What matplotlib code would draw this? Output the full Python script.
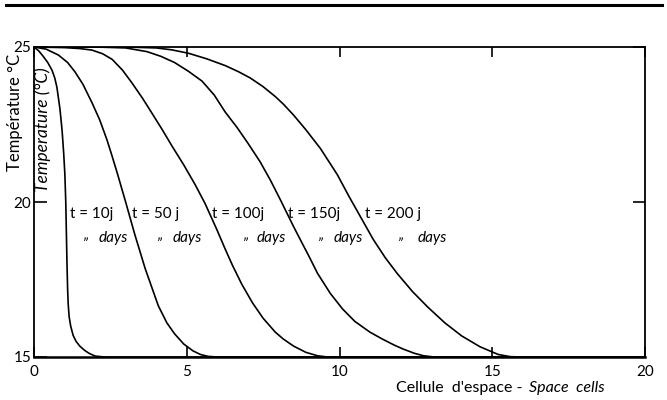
import matplotlib
matplotlib.use("Agg")
import matplotlib.pyplot as plt
from matplotlib.lines import Line2D
import matplotlib.transforms as mtransforms

plt.rcParams['font.family'] = ['Lato', 'DejaVu Sans']

# ---- data ----
x10 = [0, 0.15, 0.3, 0.45, 0.59, 0.68, 0.75, 0.85, 0.92, 0.97, 1.01, 1.04, 1.06, 1.08, 1.1,
       1.12, 1.15, 1.2, 1.28, 1.38, 1.5, 1.65, 1.8, 2.0, 2.3, 20]
T10 = [25, 24.88, 24.7, 24.5, 24.25, 24.0, 23.7, 23.0, 22.3, 21.6, 20.9, 20.0, 19.0, 18.0, 17.2,
       16.7, 16.3, 16.0, 15.7, 15.5, 15.35, 15.22, 15.12, 15.03, 15.0, 15]

x50 = [0, 0.4, 0.8, 1.1, 1.34, 1.6, 1.9, 2.15, 2.39, 2.55, 2.72, 3.0, 3.3, 3.64, 4.07, 4.35,
       4.6, 4.9, 5.2, 5.45, 5.7, 6.0, 20]
T50 = [25, 24.93, 24.74, 24.5, 24.2, 23.8, 23.2, 22.65, 22.0, 21.5, 20.95, 20.0, 18.95, 17.85, 16.65, 16.1,
       15.75, 15.42, 15.2, 15.08, 15.02, 15.0, 15]

x100 = [0, 1.0, 1.5, 1.9, 2.25, 2.56, 2.9, 3.2, 3.55, 3.87, 4.2, 4.52, 4.9, 5.28, 5.6, 5.99,
        6.25, 6.5, 6.8, 7.15, 7.5, 7.9, 8.16, 8.5, 8.9, 9.28, 9.6, 20]
T100 = [25, 24.98, 24.95, 24.9, 24.78, 24.6, 24.25, 23.85, 23.35, 22.85, 22.33, 21.8, 21.2, 20.55, 19.95, 19.1,
        18.5, 17.95, 17.35, 16.75, 16.25, 15.8, 15.58, 15.35, 15.15, 15.04, 15.0, 15]

x150 = [0, 2.0, 3.0, 3.7, 4.15, 4.6, 5.05, 5.5, 5.9, 6.26, 6.65, 7.0, 7.4, 7.74, 8.05, 8.3,
        8.5, 8.72, 9.0, 9.28, 9.7, 10.1, 10.5, 11.0, 11.4, 11.8, 12.1, 12.45, 12.75, 13.1, 20]
T150 = [25, 25, 24.97, 24.85, 24.7, 24.5, 24.22, 23.9, 23.45, 22.9, 22.4, 21.9, 21.3, 20.7, 20.1, 19.6,
        19.2, 18.78, 18.25, 17.7, 17.05, 16.55, 16.15, 15.8, 15.58, 15.38, 15.25, 15.12, 15.04, 15.0, 15]

x200 = [0, 3.0, 4.0, 4.5, 5.05, 5.65, 6.26, 6.7, 7.08, 7.5, 7.9, 8.17, 8.5, 8.9, 9.38, 9.93,
        10.3, 10.7, 11.1, 11.5, 11.9, 12.4, 12.9, 13.45, 14.0, 14.6, 15.2, 15.6, 16.0, 20]
T200 = [25, 25, 24.97, 24.91, 24.8, 24.62, 24.4, 24.2, 24.0, 23.72, 23.4, 23.15, 22.8, 22.33, 21.72, 20.88,
        20.2, 19.5, 18.8, 18.2, 17.68, 17.1, 16.6, 16.1, 15.68, 15.33, 15.08, 15.01, 15.0, 15]

series_x = [x10, x50, x100, x150, x200]
series_T = [T10, T50, T100, T150, T200]
time_labels = ["t = 10j", "t = 50 j", "t = 100j", "t = 150j", "t = 200 j"]
days_word = "days"
ditto_mark = "\u201e"

x_ticks = [0, 5, 10, 15, 20]
y_ticks = [15, 20, 25]

# ---- figure ----
fig = plt.figure(figsize=(6.67, 4.0), dpi=100)
ax = fig.add_axes([34/667, 1-357/400, (645-34)/667, (357-47)/400])

for xs, ts in zip(series_x, series_T):
    ax.plot(xs, ts, color='black', lw=1.2, solid_joinstyle='round', solid_capstyle='round')

ax.set_xlim(0, 20)
ax.set_ylim(15, 25)
ax.set_xticks(x_ticks)
ax.set_yticks(y_ticks)
ax.set_xticklabels([str(v) for v in x_ticks], fontsize=11)
ax.set_yticklabels([str(v) for v in y_ticks], fontsize=11)
ax.tick_params(axis='x', direction='in', top=True, bottom=True, length=7, width=1.2, pad=6)
ax.tick_params(axis='y', direction='in', left=True, right=True, length=9, width=1.2, pad=2)
for s in ax.spines.values():
    s.set_linewidth(1.3)
ax.spines['bottom'].set_linewidth(1.8)

# curve labels
lab_x = [1.18, 3.21, 5.84, 8.33, 10.85]
ditto_x = [1.6, 4.03, 6.85, 9.31, 11.93]
days_x = [2.1, 4.55, 7.3, 9.8, 12.55]
up = mtransforms.offset_copy(ax.transData, fig=fig, x=0, y=3, units='dots')
for lx, mx, dx, lbl in zip(lab_x, ditto_x, days_x, time_labels):
    ax.text(lx, 19.6, lbl, fontsize=11, ha='left', va='center')
    ax.text(mx, 18.85, ditto_mark, fontsize=11, style='italic', ha='left', va='center',
            transform=up)
    ax.text(dx, 18.85, days_word, fontsize=11, style='italic', ha='left', va='center')

# axis labels
fig.text(15/667, 1-112/400, "Température °C", rotation=90, fontsize=12,
         ha='center', va='center')
fig.text(43/667, 1-130/400, "Temperature (°C)", rotation=90, fontsize=12.5,
         style='italic', ha='center', va='center')
fig.text(527/667, 1-388/400, "Cellule  d'espace - ", fontsize=11.5, ha='right', va='center')
fig.text(529/667, 1-388/400, "Space  cells", fontsize=11.5, style='italic', ha='left', va='center')

# top rule
fig.add_artist(Line2D([6/667, 662/667], [1-5/400, 1-5/400], color='black', lw=2.2,
                      transform=fig.transFigure))

fig.savefig("out.png", dpi=100)
